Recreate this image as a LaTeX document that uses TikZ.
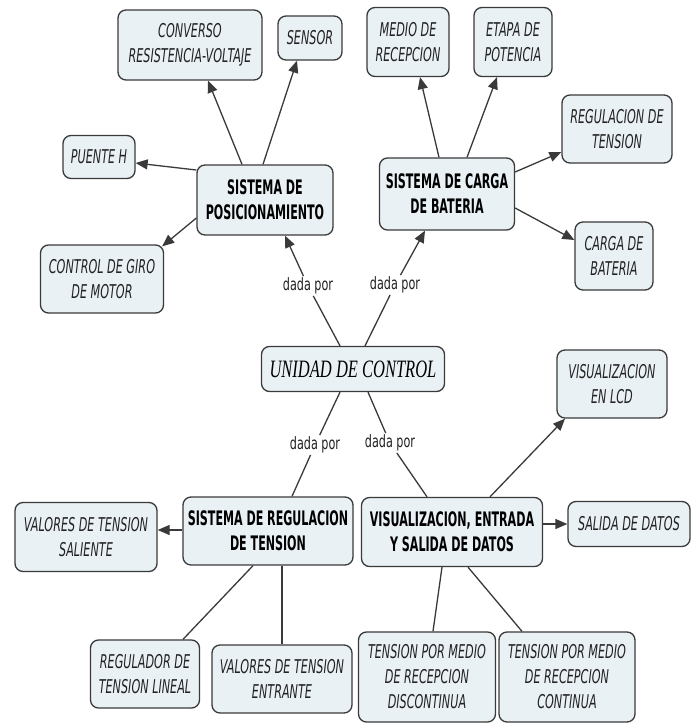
\documentclass[tikz,border=0pt]{standalone}
\usepackage{fontspec}
\usetikzlibrary{arrows.meta}
\newfontfamily\labfont[FakeStretch=0.59]{DejaVu Sans}
\newfontfamily\boldfont[FakeStretch=0.555]{DejaVu Sans}
\newfontfamily\dadafont[FakeStretch=0.66]{DejaVu Sans}
\newfontfamily\unifont[FakeStretch=0.66]{Liberation Serif}
\definecolor{boxfill}{HTML}{EAF1F5}
\definecolor{boxline}{HTML}{3A3A3A}
\definecolor{labtext}{HTML}{222222}
\tikzset{
  box/.style={draw=boxline, fill=boxfill, line width=1.3pt, rounded corners=8pt,
    inner sep=0pt, align=center},
  leaf/.style={box, text=labtext, font=\labfont\itshape\fontsize{19}{25}\selectfont},
  hub/.style={box, text=black, font=\boldfont\bfseries\fontsize{20}{25}\selectfont},
  dada/.style={inner sep=1.5pt, text=labtext, font=\dadafont\fontsize{17}{19}\selectfont},
  conn/.style={draw=boxline, line width=1.3pt},
  arr/.style={conn, -{Triangle[length=12pt,width=10pt]}}
}
\begin{document}
\begin{tikzpicture}[x=1pt,y=-1pt]
\useasboundingbox (0,0) rectangle (696,723);
\fill[white] (0,0) rectangle (696,723);
\clip (0,0) rectangle (696,723);

% top-left group
\node[leaf, minimum width=144pt, minimum height=70pt] (conv) at (190,45) {CONVERSO\\RESISTENCIA-VOLTAJE};
\node[leaf, minimum width=64pt, minimum height=44pt] (sensor) at (310,38) {SENSOR};
\node[leaf, minimum width=72pt, minimum height=43pt] (puente) at (99,157) {PUENTE H};
\node[hub, minimum width=136pt, minimum height=70pt] (pos) at (265,200) {SISTEMA DE\\POSICIONAMIENTO};
\node[leaf, minimum width=123pt, minimum height=68pt] (giro) at (102,279) {CONTROL DE GIRO\\DE MOTOR};

% top-right group
\node[leaf, minimum width=82pt, minimum height=69pt] (medio) at (408,42) {MEDIO DE\\RECEPCION};
\node[leaf, minimum width=78pt, minimum height=69pt] (etapa) at (513,42) {ETAPA DE\\POTENCIA};
\node[leaf, minimum width=110pt, minimum height=68pt] (regt) at (617,129) {REGULACION DE\\TENSION};
\node[hub, minimum width=135pt, minimum height=72pt] (carga) at (447,194) {SISTEMA DE CARGA\\DE BATERIA};
\node[leaf, minimum width=78pt, minimum height=68pt] (cbat) at (614,256) {CARGA DE\\BATERIA};

% centre
\node[box, minimum width=183pt, minimum height=45pt, text=black,
  font=\unifont\itshape\fontsize{25}{28}\selectfont] (unidad) at (353,369) {UNIDAD DE CONTROL};
\node[dada] (d1) at (308,286) {dada por};
\node[dada] (d2) at (395,285) {dada por};
\node[dada] (d3) at (315,445) {dada por};
\node[dada] (d4) at (390,443) {dada por};

% bottom-left group
\node[hub, minimum width=170pt, minimum height=68pt] (sreg) at (268,531) {SISTEMA DE REGULACION\\DE TENSION};
\node[leaf, minimum width=142pt, minimum height=69pt] (sal) at (86,537) {VALORES DE TENSION\\SALIENTE};
\node[leaf, minimum width=109pt, minimum height=68pt] (rlin) at (145,674) {REGULADOR DE\\TENSION LINEAL};
\node[leaf, minimum width=140pt, minimum height=68pt] (entr) at (282,679) {VALORES DE TENSION\\ENTRANTE};

% bottom-right group
\node[leaf, minimum width=110pt, minimum height=68pt] (lcd) at (612,384) {VISUALIZACION\\EN LCD};
\node[hub, minimum width=181pt, minimum height=69pt] (vis) at (452,532) {VISUALIZACION, ENTRADA\\Y SALIDA DE DATOS};
\node[leaf, minimum width=122pt, minimum height=45pt] (salida) at (629,524) {SALIDA DE DATOS};
\node[leaf, minimum width=137pt, minimum height=90pt] (disc) at (427,677) {TENSION POR MEDIO\\DE RECEPCION\\DISCONTINUA};
\node[leaf, minimum width=136pt, minimum height=90pt] (cont) at (567,677) {TENSION POR MEDIO\\DE RECEPCION\\CONTINUA};

% connectors: posicionamiento
\draw[arr] ([xshift=-23pt]pos.north) -- ([xshift=18pt]conv.south);
\draw[arr] ([xshift=-2pt]pos.north) -- ([xshift=-13pt]sensor.south);
\draw[arr] ([yshift=30pt]pos.west) -- ([yshift=-6pt]puente.east);
\draw[arr] ([yshift=-18pt]pos.west) -- ([xshift=-2pt,yshift=-2pt]giro.north east);

% connectors: carga
\draw[arr] ([xshift=-8pt]carga.north) -- ([xshift=12pt]medio.south);
\draw[arr] ([xshift=20pt]carga.north) -- ([xshift=-16pt]etapa.south);
\draw[arr] ([yshift=22pt]carga.east) -- ([yshift=-23pt]regt.west);
\draw[arr] ([yshift=-14pt]carga.east) -- ([yshift=16pt]cbat.west);

% connectors: unidad
\draw[conn] ([xshift=-13pt]unidad.north) -- (d1);
\draw[arr] (d1) -- ([xshift=20pt]pos.south);
\draw[conn] ([xshift=12pt]unidad.north) -- (d2);
\draw[arr] (d2) -- ([xshift=-22pt]carga.south);
\draw[conn] ([xshift=-13pt]unidad.south) -- (d3);
\draw[conn] (d3) -- ([xshift=24pt]sreg.north);
\draw[conn] ([xshift=15pt]unidad.south) -- (d4);
\draw[conn] (d4) -- ([xshift=-25pt]vis.north);

% connectors: regulacion
\draw[arr] ([yshift=1pt]sreg.west) -- ([yshift=7pt]sal.east);
\draw[conn] ([xshift=-15pt]sreg.south) -- ([xshift=38pt]rlin.north);
\draw[conn] ([xshift=14pt]sreg.south) -- ([xshift=0pt]entr.north);

% connectors: visualizacion
\draw[arr] ([xshift=38pt]vis.north) -- ([xshift=-47pt]lcd.south);
\draw[arr] ([yshift=8pt]vis.east) -- (salida.west);
\draw[conn] ([xshift=-10pt]vis.south) -- ([xshift=6pt]disc.north);
\draw[conn] ([xshift=16pt]vis.south) -- ([xshift=-45pt]cont.north);
\end{tikzpicture}
\end{document}
